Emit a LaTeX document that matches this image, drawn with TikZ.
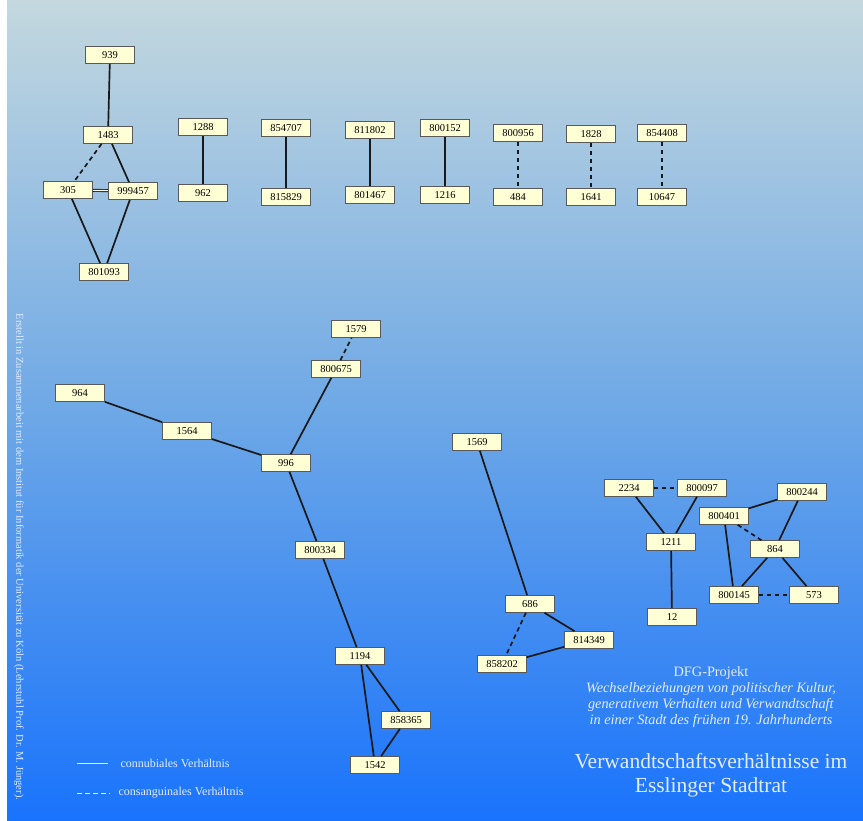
\documentclass[tikz,border=0pt]{standalone}
\usepackage{fontspec}
\setmainfont{Liberation Serif}
\definecolor{bgtop}{RGB}{196,216,222}
\definecolor{bgmid}{RGB}{110,168,230}
\definecolor{bgbot}{RGB}{25,115,252}
\definecolor{boxfill}{RGB}{255,255,214}
\definecolor{titlecol}{RGB}{226,236,255}
\pgfdeclareverticalshading{bgshade}{100bp}{color(0bp)=(bgbot); color(25bp)=(bgbot); color(50bp)=(bgmid); color(75bp)=(bgtop); color(100bp)=(bgtop)}
\begin{document}
\begin{tikzpicture}[x=1pt,y=-1pt,
  box/.style={draw=black!65, fill=boxfill, line width=0.7pt, minimum width=49pt, minimum height=17pt, inner sep=0pt, font=\fontsize{10.5}{11}\selectfont},
  rel/.style={line width=1.7pt, black!90},
  cons/.style={rel, dash pattern=on 4.5pt off 3.5pt},
  lightline/.style={titlecol, line width=0.9pt},
  title/.style={text=titlecol, align=center},
]
\useasboundingbox (0,0) rectangle (863,821);
\fill[white] (0,0) rectangle (863,821);
\shade[shading=bgshade] (7,0) rectangle (863,821);

% top-left cluster
\node[box] (n939) at (110,55) {939};
\node[box] (n1483) at (108,135) {1483};
\node[box] (n305) at (68,190) {305};
\node[box] (n999457) at (133,191) {999457};
\node[box] (n801093) at (104,272) {801093};
\draw[rel] (n939) -- (n1483);
\draw[cons] (n1483) -- (n305);
\draw[rel] (n1483) -- (n999457);
\draw[black!90, line width=0.9pt, double=boxfill!70!white, double distance=1.2pt] (n305) -- (n999457);
\draw[rel] (n305) -- (n801093);
\draw[rel] (n999457) -- (n801093);

% top row pairs
\node[box] (n1288) at (203,127) {1288};
\node[box] (n962) at (203,193) {962};
\node[box] (n854707) at (286,128) {854707};
\node[box] (n815829) at (286,197) {815829};
\node[box] (n811802) at (370,130) {811802};
\node[box] (n801467) at (370,195) {801467};
\node[box] (n800152) at (445,128) {800152};
\node[box] (n1216) at (445,195) {1216};
\node[box] (n800956) at (518,133) {800956};
\node[box] (n484) at (518,197) {484};
\node[box] (n1828) at (591,134) {1828};
\node[box] (n1641) at (591,197) {1641};
\node[box] (n854408) at (662,133) {854408};
\node[box] (n10647) at (662,197) {10647};
\draw[rel] (n1288) -- (n962);
\draw[rel] (n854707) -- (n815829);
\draw[rel] (n811802) -- (n801467);
\draw[rel] (n800152) -- (n1216);
\draw[cons] (n800956) -- (n484);
\draw[cons] (n1828) -- (n1641);
\draw[cons] (n854408) -- (n10647);

% large tree
\node[box] (n1579) at (356,329) {1579};
\node[box] (n800675) at (336,369) {800675};
\node[box] (n964) at (80,393) {964};
\node[box] (n1564) at (187,431) {1564};
\node[box] (n996) at (286,463) {996};
\node[box] (n800334) at (320,550) {800334};
\node[box] (n1194) at (360,656) {1194};
\node[box] (n858365) at (406,720) {858365};
\node[box] (n1542) at (375,765) {1542};
\draw[cons] (n800675) -- (n1579);
\draw[rel] (n964) -- (n1564);
\draw[rel] (n1564) -- (n996);
\draw[rel] (n996) -- (n800675);
\draw[rel] (n996) -- (n800334);
\draw[rel] (n800334) -- (n1194);
\draw[rel] (n1194) -- (n1542);
\draw[rel] (n1194) -- (n858365);
\draw[rel] (n858365) -- (n1542);

% middle cluster
\node[box] (n1569) at (477,442) {1569};
\node[box] (n686) at (530,604) {686};
\node[box] (n814349) at (589,640) {814349};
\node[box] (n858202) at (502,664) {858202};
\draw[rel] (n1569) -- (n686);
\draw[rel] (n686) -- (n814349);
\draw[cons] (n686) -- (n858202);
\draw[rel] (n858202) -- (n814349);

% right clusters
\node[box] (n2234) at (629,488) {2234};
\node[box] (n800097) at (702,488) {800097};
\node[box] (n1211) at (671,542) {1211};
\node[box] (n12) at (672,617) {12};
\draw[cons] (n2234) -- (n800097);
\draw[rel] (n2234) -- (n1211);
\draw[rel] (n800097) -- (n1211);
\draw[rel] (n1211) -- (n12);

\node[box] (n800244) at (802,492) {800244};
\node[box] (n800401) at (724,516) {800401};
\node[box] (n864) at (775,549) {864};
\node[box] (n800145) at (734,595) {800145};
\node[box] (n573) at (814,595) {573};
\draw[rel] (n800401) -- (n800244);
\draw[rel] (n800244) -- (n864);
\draw[cons] (n800401) -- (n864);
\draw[rel] (n800401) -- (n800145);
\draw[rel] (n864) -- (n800145);
\draw[rel] (n864) -- (n573);
\draw[cons] (n800145) -- (n573);

% titles
\node[title, font=\fontsize{14.3}{16}\selectfont] (proj) at (711,697.5)
  {DFG-Projekt\\\textit{Wechselbeziehungen von politischer Kultur,}\\\textit{generativem Verhalten und Verwandtschaft}\\\textit{in einer Stadt des frühen 19. Jahrhunderts}};
\node[title, font=\fontsize{21.5}{24}\selectfont] (head) at (711,775)
  {Verwandtschaftsverhältnisse im\\Esslinger Stadtrat};

% vertical credit
\node[text=titlecol, rotate=-90, font=\fontsize{10.5}{12}\selectfont] (credit) at (19,557)
  {Erstellt in Zusammenarbeit mit dem Institut für Informatik der Universität zu Köln (Lehrstuhl Prof. Dr. M. Jünger).};

% legend
\coordinate (l1a) at (77,763);
\coordinate (l1b) at (108,763);
\coordinate (l2a) at (77,793);
\coordinate (l2b) at (110,793);
\draw[lightline] (l1a) -- (l1b);
\draw[lightline, dash pattern=on 5pt off 3pt] (l2a) -- (l2b);
\node[text=titlecol, anchor=west, font=\fontsize{12}{13}\selectfont] (leg1) at (117,763) {connubiales Verhältnis};
\node[text=titlecol, anchor=west, font=\fontsize{12}{13}\selectfont] (leg2) at (115,793) {consanguinales Verhältnis};
\end{tikzpicture}
\end{document}
